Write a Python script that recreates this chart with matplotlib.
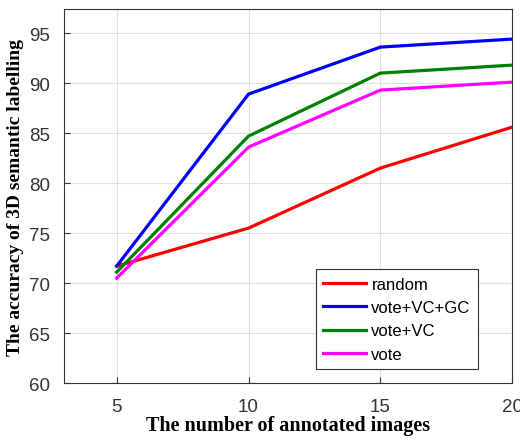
import numpy as np
import matplotlib.pyplot as plt

n_images = [5, 10, 15, 20]
random_acc = [71.7, 75.5, 81.5, 85.6]
vote_vc_gc = [71.7, 88.9, 93.6, 94.4]
vote_vc = [71.1, 84.7, 91.0, 91.8]
vote = [70.5, 83.6, 89.3, 90.1]

fig = plt.figure(figsize=(5.2, 4.39), dpi=100)
ax = fig.add_axes([0.123, 0.125, 0.862, 0.852])

ax.plot(n_images, random_acc, color='#ff0000', lw=2.3, label='random')
ax.plot(n_images, vote_vc_gc, color='#0000ff', lw=2.3, label='vote+VC+GC')
ax.plot(n_images, vote_vc, color='#008000', lw=2.3, label='vote+VC')
ax.plot(n_images, vote, color='#ff00ff', lw=2.3, label='vote')

ax.set_xlim(3, 20)
ax.set_ylim(60, 97.4)
ax.set_xticks([5, 10, 15, 20])
ax.set_yticks(np.arange(60, 96, 5))
ax.grid(True, color='#e0e0e0', lw=0.8)
ax.set_axisbelow(True)
ax.tick_params(direction='in', length=4, color='#333333', labelsize=13.5)
ax.tick_params(axis='y', pad=10)
ax.tick_params(axis='x', pad=11)
for lab in ax.get_xticklabels() + ax.get_yticklabels():
    lab.set_family('Liberation Sans')
    lab.set_color('#333333')
for s in ax.spines.values():
    s.set_color('#333333')
    s.set_linewidth(0.8)

ax.set_xlabel('The number of annotated images', family='Liberation Serif',
              fontweight='bold', fontsize=14.5, labelpad=0)
ax.set_ylabel('The accuracy of 3D semantic labelling', family='Liberation Serif',
              fontweight='bold', fontsize=14, labelpad=4)

leg = ax.legend(loc='lower right', bbox_to_anchor=(0.924, 0.037),
                borderaxespad=0,
                prop={'family': 'Liberation Sans', 'size': 12},
                fancybox=False, edgecolor='#333333', framealpha=1,
                handlelength=2.6, handletextpad=0.3, labelspacing=0.5,
                borderpad=0.45)
leg.get_frame().set_linewidth(0.8)

fig.savefig('out.png', dpi=100)
